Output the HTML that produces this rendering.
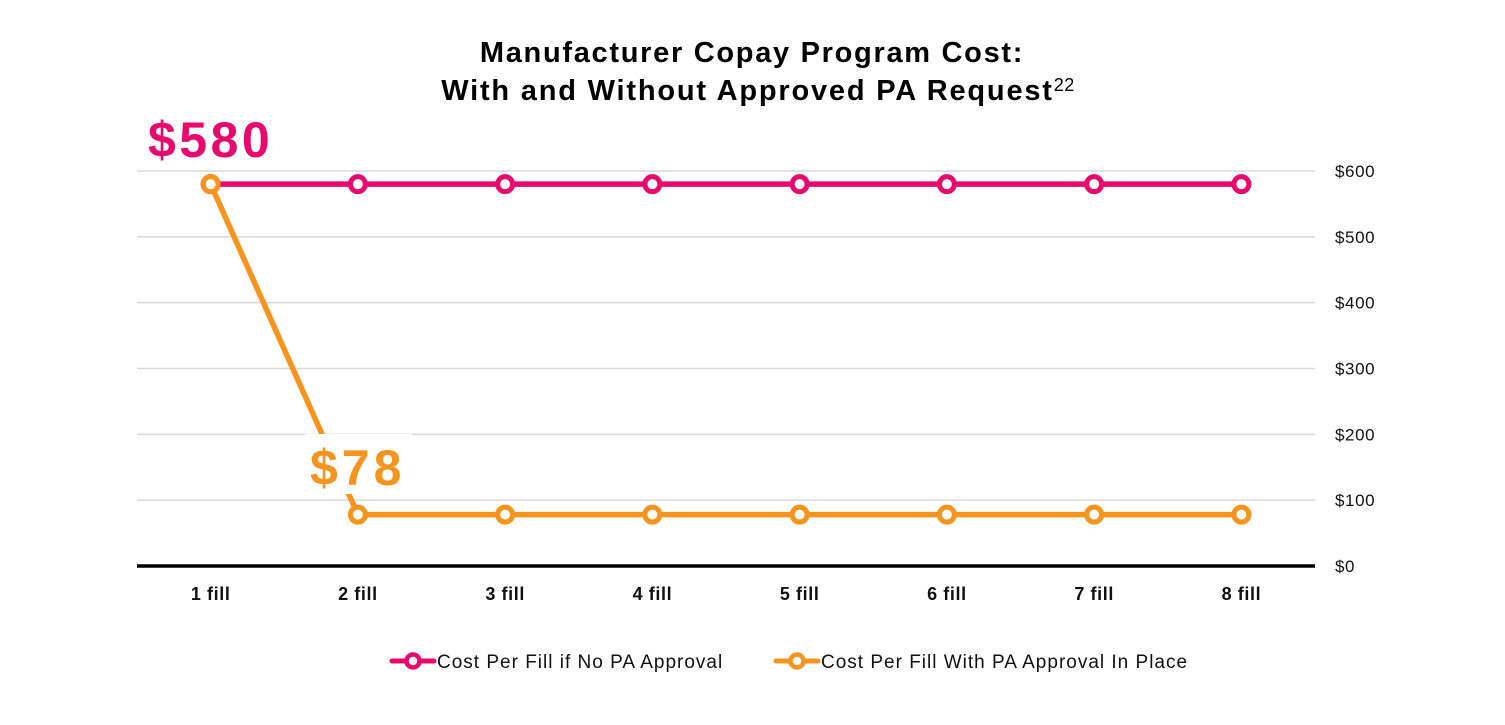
<!DOCTYPE html>
<html><head><meta charset="utf-8"><style>
html,body{margin:0;padding:0;background:#fff;}
svg{display:block;font-family:"Liberation Sans",sans-serif;}
</style></head><body>
<svg id="chart" width="1505" height="725" viewBox="0 0 1505 725">
<text x="752" y="62" text-anchor="middle" font-size="29" font-weight="bold" letter-spacing="1.7" fill="#000">Manufacturer Copay Program Cost:</text>
<text x="758" y="100" text-anchor="middle" font-size="29" font-weight="bold" letter-spacing="1.8" fill="#000">With and Without Approved PA Request<tspan font-size="18" font-weight="normal" letter-spacing="0.5" dy="-9">22</tspan></text>
<g id="grid"></g>
<g id="series"></g>
<rect x="305" y="434" width="107" height="60" fill="#fff"/>
<text x="148" y="157" font-size="50" font-weight="bold" letter-spacing="3.5" fill="#E8086E">$580</text>
<text x="310" y="485" font-size="50" font-weight="bold" letter-spacing="4" fill="#F7941D">$78</text>
<g>
<g>
<line x1="392" y1="661" x2="434" y2="661" stroke="#E8086E" stroke-width="5" stroke-linecap="round"/>
<circle cx="413" cy="661" r="6.5" fill="#fff" stroke="#E8086E" stroke-width="4.5"/>
<text x="437" y="668" font-size="19" letter-spacing="1" fill="#111">Cost Per Fill if No PA Approval</text>
</g>
<g>
<line x1="776" y1="661" x2="818" y2="661" stroke="#F7941D" stroke-width="5" stroke-linecap="round"/>
<circle cx="797" cy="661" r="6.5" fill="#fff" stroke="#F7941D" stroke-width="4.5"/>
<text x="821" y="668" font-size="19" letter-spacing="1" fill="#111">Cost Per Fill With PA Approval In Place</text>
</g>
</g>
</svg>
<script>
const categories = ["1 fill","2 fill","3 fill","4 fill","5 fill","6 fill","7 fill","8 fill"];
const noPaValues = [580,580,580,580,580,580,580,580];
const withPaValues = [580,78,78,78,78,78,78,78];
const yTicks = [0,100,200,300,400,500,600];
const yTickLabels = ["$0","$100","$200","$300","$400","$500","$600"];

const NS = "http://www.w3.org/2000/svg";
const plotL = 137, plotR = 1315, y0 = 566, yTop = 171, yMax = 600;
const band = (plotR - plotL) / categories.length;
function xPos(i){ return plotL + band * (i + 0.5); }
function yPos(v){ return y0 - (v / yMax) * (y0 - yTop); }
function mk(tag, attrs, parent){ const e = document.createElementNS(NS, tag); for (const k in attrs) e.setAttribute(k, attrs[k]); parent.appendChild(e); return e; }

const grid = document.getElementById("grid");
yTicks.forEach((t, i) => {
  if (t !== 0) {
    const gl = mk("line", {x1: plotL, x2: plotR, y1: yPos(t), y2: yPos(t), stroke: "#d9d9d9", "stroke-width": 1.5}, grid);
    
    
  }
  const tl = mk("text", {x: 1335, y: yPos(t) + 6, "font-size": 17, "letter-spacing": 0.6, fill: "#111"}, grid);
  tl.textContent = yTickLabels[i];
  
  
});
const ax = mk("line", {x1: plotL, x2: plotR, y1: y0, y2: y0, stroke: "#000", "stroke-width": 3.5}, grid);


categories.forEach((c, i) => {
  const t = mk("text", {x: xPos(i), y: 600, "text-anchor": "middle", "font-size": 18, "font-weight": "bold", "letter-spacing": 0.6, fill: "#111"}, grid);
  t.textContent = c;
  
  
});

const series = document.getElementById("series");
function drawSeries(vals, color, name){
  const g = mk("g", {}, series);
  
  
  const pts = vals.map((v, i) => xPos(i) + "," + yPos(v)).join(" ");
  const pl = mk("polyline", {points: pts, fill: "none", stroke: color, "stroke-width": 5.5, "stroke-linejoin": "round"}, g);
  
  
  vals.forEach((v, i) => {
    const c = mk("circle", {cx: xPos(i), cy: yPos(v), r: 7.5, fill: "#fff", stroke: color, "stroke-width": 5}, g);
    
    
  });
}
drawSeries(noPaValues, "#E8086E", "no-pa-series");
drawSeries(withPaValues, "#F7941D", "with-pa-series");
</script>
</body></html>
